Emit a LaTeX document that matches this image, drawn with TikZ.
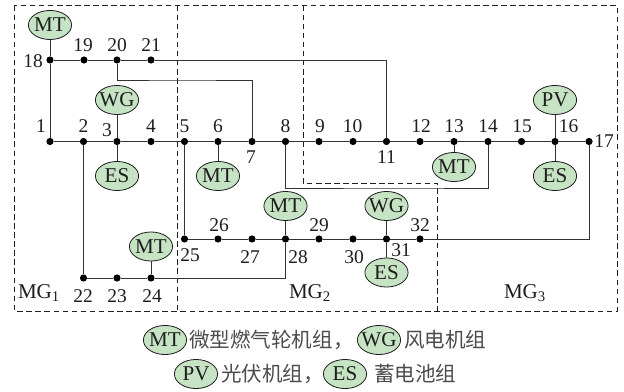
\documentclass[tikz,border=0pt]{standalone}
\usepackage{fontspec}
\setmainfont{Liberation Serif}
\newfontfamily\cjkf{Noto Sans CJK SC}
\usetikzlibrary{shapes.geometric}
\definecolor{gfill}{HTML}{C6E3C4}
\definecolor{wire}{HTML}{333333}
\definecolor{ink}{HTML}{1E1E1E}
\tikzset{
  bus/.style={circle,fill=black,inner sep=0pt,minimum size=5.4pt},
  wirel/.style={draw=wire,line width=0.6pt},
  dev/.style={ellipse,draw=ink,fill=gfill,line width=0.6pt,inner xsep=-5pt,inner ysep=-4pt,minimum width=32.4pt,minimum height=21.8pt,font=\fontsize{15.8}{16}\selectfont,text=ink},
  num/.style={inner sep=0pt,font=\fontsize{14.6}{15}\selectfont,text=ink},
  mg/.style={inner sep=0pt,font=\fontsize{15.8}{16}\selectfont,text=ink},
  leg/.style={inner sep=0pt,anchor=west,font=\cjkf\fontsize{15.4}{16}\selectfont,text=ink!80},
  zone/.style={draw=ink,line width=0.5pt,dash pattern=on 4.2pt off 2.6pt}
}
\begin{document}
\begin{tikzpicture}[x=0.75pt,y=-0.75pt]
\useasboundingbox (0,0) rectangle (624,392);
% zones
\draw[zone] (14.5,5.5) rectangle (617,311);
\draw[zone] (177.5,5.5) -- (177.5,311);
\draw[zone] (303,5.5) -- (303,183) -- (437.5,183) -- (437.5,311);
% buses
\foreach \n/\x/\y in {1/50/141.5,2/83.5/141.5,3/117/141.5,4/151/141.5,5/184.5/141.5,6/218/141.5,7/252/141.5,8/285.5/141.5,9/319/141.5,10/353/141.5,11/386.5/141.5,12/420/141.5,13/454/141.5,14/488/141.5,15/521.5/141.5,16/555/141.5,17/589/141.5,
18/50/60,19/84/60,20/117/60,21/151/60,
22/83.5/278,23/117/278,24/151/278,
25/184.5/239,26/218/239,27/252/239,28/285.5/239,29/319/239,30/353/239,31/386.5/239,32/420/239}
  \node[bus] (b\n) at (\x,\y) {};
% devices
\node[dev] (mt18) at (50,25) {MT};
\node[dev] (wg3) at (117,100) {WG};
\node[dev] (es3) at (117,176) {ES};
\node[dev] (mt6) at (218,176) {MT};
\node[dev] (mt13) at (454,167) {MT};
\node[dev] (pv16) at (555,100) {PV};
\node[dev] (es16) at (555,176) {ES};
\node[dev] (mt28) at (285.5,206) {MT};
\node[dev] (wg31) at (386.5,206) {WG};
\node[dev] (es31) at (386.5,272.5) {ES};
\node[dev] (mt24) at (151,246.5) {MT};
% routing helpers
\coordinate (c20) at (180,80);
\coordinate (c8) at (400,188);
% wires
\draw[wirel] (b1)--(b2)--(b3)--(b4)--(b5)--(b6)--(b7)--(b8)--(b9)--(b10)--(b11)--(b12)--(b13)--(b14)--(b15)--(b16)--(b17);
\draw[wirel] (b18)--(b19)--(b20)--(b21);
\draw[wirel] (b18)--(b1);
\draw[wirel] (b21) -| (b11);
\draw[wirel] (b20) |- (c20) -| (b7);
\draw[wirel] (b8) |- (c8) -| (b14);
\draw[wirel] (b5)--(b25);
\draw[wirel] (b2)--(b22);
\draw[wirel] (b22)--(b23)--(b24);
\draw[wirel] (b24) -| (b28);
\draw[wirel] (b25)--(b26)--(b27)--(b28)--(b29)--(b30)--(b31)--(b32);
\draw[wirel] (b32) -| (b17);
\draw[wirel] (mt18)--(b18);
\draw[wirel] (wg3)--(b3);
\draw[wirel] (es3)--(b3);
\draw[wirel] (mt6)--(b6);
\draw[wirel] (mt13)--(b13);
\draw[wirel] (pv16)--(b16);
\draw[wirel] (es16)--(b16);
\draw[wirel] (mt28)--(b28);
\draw[wirel] (wg31)--(b31);
\draw[wirel] (es31)--(b31);
\draw[wirel] (mt24)--(b24);
% bus labels
\foreach \n/\x/\y in {1/41/126,2/83.5/126,3/107/130,4/151/126,5/184.5/126,6/218/126,7/251/157,8/285.5/126,9/320/126,10/352.5/126,11/386.5/157,12/421/126,13/454/126,14/488/126,15/522/126,16/568.5/126,17/604/141,18/33/61,19/83/45,20/117/45,21/151/45,22/83/296,23/117/296,24/152/296,25/190/255,26/219/225,27/250/257,28/298/257,29/319/225,30/354/257,31/401/250,32/420/225}
  \node[num] (l\n) at (\x,\y) {\n};
% zone labels
\node[mg] (mg1) at (39,293) {MG\textsubscript{1}};
\node[mg] (mg2) at (310,293) {MG\textsubscript{2}};
\node[mg] (mg3) at (525,293) {MG\textsubscript{3}};
% legend
\node[dev] (lmt) at (165,340) {MT};
\node[leg] (tmt) at (189,340) {微型燃气轮机组，};
\node[dev] (lwg) at (379,340) {WG};
\node[leg] (twg) at (404,340) {风电机组};
\node[dev] (lpv) at (196,374) {PV};
\node[leg] (tpv) at (221,374) {光伏机组，};
\node[dev] (les) at (345,374) {ES};
\node[leg] (tes) at (374,374) {蓄电池组};
\end{tikzpicture}
\end{document}
